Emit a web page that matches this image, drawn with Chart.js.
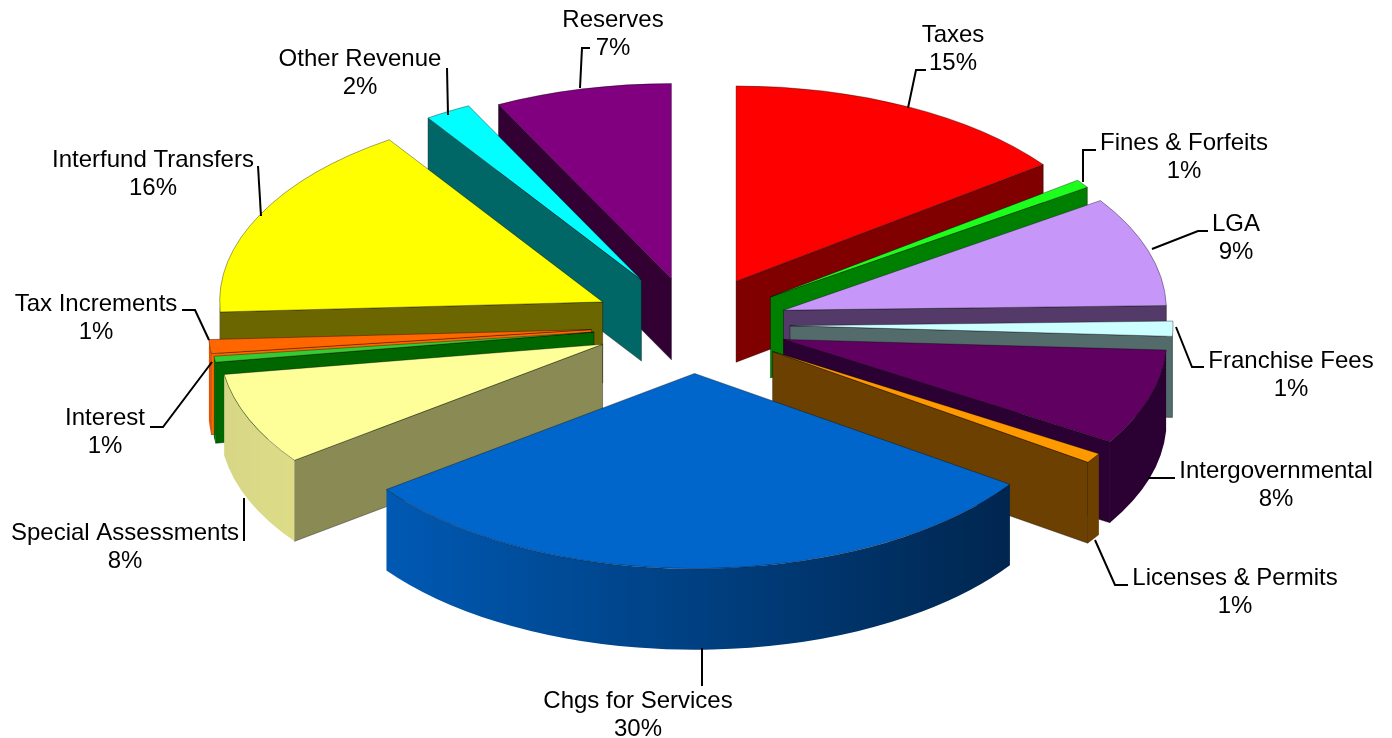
<!DOCTYPE html>
<html>
<head>
<meta charset="utf-8">
<title>Revenue</title>
<script src="https://cdn.jsdelivr.net/npm/chart.js@4/dist/chart.umd.min.js"></script>
<style>
    html, body { margin: 0; padding: 0; background: #fff; }
    canvas { display: block; }
</style>
</head>
<body>
<canvas id="pie" width="1392" height="738"></canvas>
<script>
const categories = ['Taxes', 'Fines & Forfeits', 'LGA', 'Franchise Fees', 'Intergovernmental', 'Licenses & Permits',
    'Chgs for Services', 'Special Assessments', 'Interest', 'Tax Increments', 'Interfund Transfers', 'Other Revenue', 'Reserves'];
const shares = [14.8, 0.7, 9.1, 1.25, 7.9, 0.83, 30.25, 7.65, 0.5, 1.15, 16.4, 1.95, 7.45];
const shareLabels = ['15%', '1%', '9%', '1%', '8%', '1%', '30%', '8%', '1%', '1%', '16%', '2%', '7%'];

// styling per slice, same order as categories
const topColors = ['#ff0000', '#1cff1c', '#c697f8', '#ccffff', '#600060', '#ff9900', '#0066cc', '#ffff99', '#33cc33', '#ff6600', '#ffff00', '#00ffff', '#800080'];
const sideColors = ['#800000', '#008000', '#543a68', '#536b6b', '#2b0033', '#6b4000', '#00408a', '#8a8a55', '#006600', '#ff6600', '#6b6600', '#006666', '#330033'];
const rimColors = [
    ['#800000', '#800000'], ['#008000', '#008000'], ['#543a68', '#543a68'], ['#536b6b', '#536b6b'],
    ['#2b0033', '#2b0033'], ['#6b4000', '#6b4000'], ['#0059b3', '#00264f'], ['#d6d686', '#dddd88'],
    ['#006600', '#006600'], ['#e85000', '#e85000'], ['#6b6600', '#6b6600'], ['#006666', '#006666'], ['#330033', '#330033'],
];
const explode = [96, 95, 95, 97, 95, 95, 95, 98, 100, 102, 101, 102, 93];

const tilt = 0.51;
const depth = 81;

// label centre and leader line for each slice
const labelAt = [[953, 35], [1184, 143], [1236, 224], [1291, 361], [1276, 471], [1235, 578], [638, 701], [125, 533], [105, 418], [96, 304], [153, 160], [360, 59], [613, 20]];
const leaders = [
    [[908, 108], [916, 70], [926, 70]],
    [[1083, 182], [1083, 150], [1096, 150]],
    [[1152, 249], [1198, 231], [1208, 231]],
    [[1176, 327], [1192, 367], [1204, 367]],
    [[1148, 478], [1175, 478]],
    [[1095, 540], [1115, 585], [1128, 585]],
    [[702, 648], [702, 686]],
    [[244, 498], [244, 541]],
    [[212, 362], [163, 427], [150, 427]],
    [[209, 340], [195, 310], [182, 310]],
    [[261, 216], [258, 166]],
    [[448, 115], [447, 68]],
    [[580, 88], [582, 48], [590, 48]],
];

function slicePos(arc, i) {
    const mid = (arc.startAngle + arc.endAngle) / 2;
    return {
        x: arc.x + Math.cos(mid) * explode[i],
        y: arc.y + Math.sin(mid) * explode[i] * tilt,
    };
}

function drawFace(ctx, v, arc, angle, color) {
    const ex = v.x + Math.cos(angle) * arc.outerRadius;
    const ey = v.y + Math.sin(angle) * arc.outerRadius * tilt;
    ctx.beginPath();
    ctx.moveTo(v.x, v.y);
    ctx.lineTo(ex, ey);
    ctx.lineTo(ex, ey + depth);
    ctx.lineTo(v.x, v.y + depth);
    ctx.closePath();
    ctx.fillStyle = color;
    ctx.fill();
    ctx.stroke();
}

function drawRim(ctx, v, arc, colors) {
    const a0 = Math.max(arc.startAngle, 0);
    const a1 = Math.min(arc.endAngle, Math.PI);
    if (a1 <= a0) return;
    const R = arc.outerRadius;
    const grad = ctx.createLinearGradient(v.x + Math.cos(a1) * R, 0, v.x + Math.cos(a0) * R, 0);
    grad.addColorStop(0, colors[0]);
    grad.addColorStop(1, colors[1]);
    ctx.beginPath();
    ctx.ellipse(v.x, v.y, R, R * tilt, 0, a0, a1);
    ctx.ellipse(v.x, v.y + depth, R, R * tilt, 0, a1, a0, true);
    ctx.closePath();
    ctx.fillStyle = grad;
    ctx.fill();
}

// draws the flat pie arcs tilted, with walls under them, back slices first
const tiltedPie = {
    id: 'tiltedPie',
    beforeDatasetDraw(chart) {
        const ctx = chart.ctx;
        const arcs = chart.getDatasetMeta(0).data;
        const order = arcs.map((a, i) => i).sort((a, b) => {
            const sa = Math.sin((arcs[a].startAngle + arcs[a].endAngle) / 2);
            const sb = Math.sin((arcs[b].startAngle + arcs[b].endAngle) / 2);
            return sa - sb;
        });
        order.forEach(i => {
            const arc = arcs[i];
            const v = slicePos(arc, i);
            ctx.save();
            ctx.lineWidth = 0.7;
            ctx.strokeStyle = 'rgba(0,0,0,0.55)';
            // only the radial walls that face the viewer
            if (Math.cos(arc.startAngle) < 0) drawFace(ctx, v, arc, arc.startAngle, sideColors[i]);
            if (Math.cos(arc.endAngle) > 0) drawFace(ctx, v, arc, arc.endAngle, sideColors[i]);
            drawRim(ctx, v, arc, rimColors[i]);
            ctx.translate(v.x - arc.x, v.y);
            ctx.scale(1, tilt);
            ctx.translate(0, -arc.y);
            arc.draw(ctx);
            ctx.restore();
        });
        return false;
    },
    afterDatasetsDraw(chart) {
        const ctx = chart.ctx;
        ctx.save();
        ctx.strokeStyle = '#000';
        ctx.lineWidth = 2;
        leaders.forEach(pts => {
            ctx.beginPath();
            pts.forEach((p, n) => n ? ctx.lineTo(p[0], p[1]) : ctx.moveTo(p[0], p[1]));
            ctx.stroke();
        });
        ctx.fillStyle = '#000';
        ctx.font = '24px "Liberation Sans"';
        ctx.textAlign = 'center';
        ctx.textBaseline = 'middle';
        categories.forEach((name, i) => {
            ctx.fillText(name, labelAt[i][0], labelAt[i][1]);
            ctx.fillText(shareLabels[i], labelAt[i][0], labelAt[i][1] + 28);
        });
        ctx.restore();
    },
};

new Chart(document.getElementById('pie'), {
    type: 'pie',
    data: {
        labels: categories,
        datasets: [{
            data: shares,
            backgroundColor: topColors,
            borderColor: 'rgba(0,0,0,0.6)',
            borderWidth: 0.8,
            radius: 383,
        }],
    },
    options: {
        responsive: false,
        animation: false,
        layout: { padding: { left: 0, right: 6, top: 0, bottom: 88 } },
        plugins: {
            legend: { display: false },
            tooltip: { enabled: false },
        },
    },
    plugins: [tiltedPie],
});
</script>
</body>
</html>
